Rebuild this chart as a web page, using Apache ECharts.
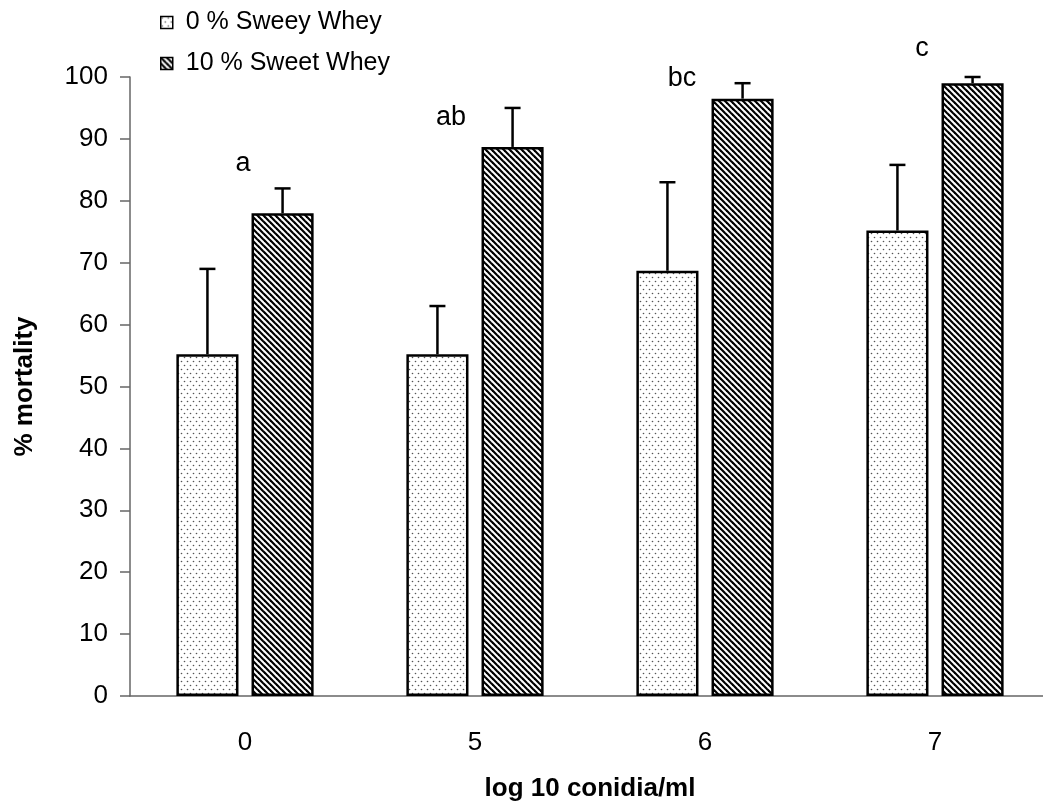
<!DOCTYPE html>
<html>
<head>
<meta charset="utf-8">
<script src="https://cdn.jsdelivr.net/npm/echarts@6/dist/echarts.min.js"></script>
<style>html,body{margin:0;padding:0;background:#fff;}#c{width:1043px;height:810px;}</style>
</head>
<body>
<div id="c"></div>
<script>
const categories = ['0', '5', '6', '7'];
const seriesNames = ['0 % Sweey Whey', '10 % Sweet Whey'];
const mean0 = [55.2, 55.2, 68.7, 75.2];
const errTop0 = [69, 63, 83, 85.8];
const mean10 = [78, 88.7, 96.5, 99];
const errTop10 = [82, 95, 99, 100];
const letters = ['a', 'ab', 'bc', 'c'];
const letterY = [86, 93.5, 99.8, 104.6];

function dotPattern() {
  const c = document.createElement('canvas');
  c.width = 6; c.height = 8;
  const g = c.getContext('2d');
  g.fillStyle = '#fff'; g.fillRect(0, 0, 6, 8);
  g.fillStyle = '#555';
  g.beginPath(); g.arc(1.5, 1.5, 0.8, 0, Math.PI * 2); g.fill();
  g.beginPath(); g.arc(4.5, 5.5, 0.8, 0, Math.PI * 2); g.fill();
  return c;
}
function stripePattern() {
  const N = 6;
  const c = document.createElement('canvas');
  c.width = N; c.height = N;
  const g = c.getContext('2d');
  g.fillStyle = '#fff'; g.fillRect(0, 0, N, N);
  g.strokeStyle = '#000'; g.lineWidth = 2.2;
  for (let k = -1; k <= 1; k++) {
    g.beginPath();
    g.moveTo(k * N - 1, -1);
    g.lineTo(k * N + N + 1, N + 1);
    g.stroke();
  }
  return c;
}

const chart = echarts.init(document.getElementById('c'));
const BW = 0.27, GAP = 0.21;
const off = (BW + BW * GAP) / 2;

function errData(means, tops) {
  return means.map((m, i) => [i, m, tops[i]]);
}
function errRender(sign) {
  return function (params, api) {
    const band = api.size([1, 0])[0];
    const p1 = api.coord([api.value(0), api.value(1)]);
    const p2 = api.coord([api.value(0), api.value(2)]);
    const x = p1[0] + sign * band * off;
    const style = { stroke: '#000', lineWidth: 2.5 };
    return {
      type: 'group',
      children: [
        { type: 'line', shape: { x1: x, y1: p1[1], x2: x, y2: p2[1] }, style },
        { type: 'line', shape: { x1: x - 8, y1: p2[1], x2: x + 8, y2: p2[1] }, style }
      ]
    };
  };
}

const letterShift = [-2, -24, -23, -13];
const font = 'Liberation Sans, Arial, sans-serif';
chart.setOption({
  animation: false,
  backgroundColor: '#fff',
  textStyle: { fontFamily: font },
  grid: { left: 130, top: 77, height: 619, width: 920, outerBoundsMode: 'none', containLabel: false },
  legend: {
    orient: 'vertical', left: 160, top: 10, itemGap: 16, padding: 0,
    itemWidth: 12, itemHeight: 12, data: seriesNames, icon: 'rect',
    textStyle: { fontSize: 25, color: '#000', fontFamily: font, padding: [0, 0, 0, 8] },
    itemStyle: { borderColor: '#000', borderWidth: 1.5 }
  },
  xAxis: {
    type: 'category', data: categories,
    name: 'log 10 conidia/ml', nameLocation: 'middle', nameGap: 80,
    nameTextStyle: { fontSize: 26, fontWeight: 'bold', color: '#000', fontFamily: font },
    axisLine: { lineStyle: { color: '#666', width: 1.5 } },
    axisTick: { length: 10, lineStyle: { color: '#666', width: 1.5 } },
    axisLabel: { fontSize: 26, color: '#000', margin: 34, fontFamily: font },
    splitLine: { show: false }
  },
  yAxis: {
    type: 'value', min: 0, max: 100, interval: 10,
    name: '% mortality', nameLocation: 'middle', nameGap: 92,
    nameTextStyle: { fontSize: 26, fontWeight: 'bold', color: '#000', fontFamily: font },
    axisLine: { show: true, lineStyle: { color: '#666', width: 1.5 } },
    axisTick: { show: true, length: 10, lineStyle: { color: '#666', width: 1.5 } },
    axisLabel: { fontSize: 26, color: '#000', margin: 22, fontFamily: font },
    splitLine: { show: false }
  },
  series: [
    {
      name: seriesNames[0], type: 'bar', data: mean0,
      barWidth: (BW * 100) + '%', barGap: (GAP * 100) + '%',
      itemStyle: { color: { image: dotPattern(), repeat: 'repeat' }, borderColor: '#000', borderWidth: 2.5 }
    },
    {
      name: seriesNames[1], type: 'bar', data: mean10,
      barWidth: (BW * 100) + '%', barGap: (GAP * 100) + '%',
      itemStyle: { color: { image: stripePattern(), repeat: 'repeat' }, borderColor: '#000', borderWidth: 2.5 }
    },
    { type: 'custom', data: errData(mean0, errTop0), renderItem: errRender(-1), encode: { x: 0, y: [1, 2] }, clip: false, z: 5 },
    { type: 'custom', data: errData(mean10, errTop10), renderItem: errRender(1), encode: { x: 0, y: [1, 2] }, clip: false, z: 5 },
    {
      type: 'scatter', symbolSize: 0, clip: false,
      itemStyle: { opacity: 1 },
      data: letters.map((t, i) => ({ value: [i, letterY[i]], name: t, label: { offset: [letterShift[i], 0] } })),
      label: {
        show: true, position: 'inside', formatter: p => p.name,
        fontSize: 27, color: '#000', fontFamily: font
      }
    }
  ]
});
</script>
</body>
</html>
